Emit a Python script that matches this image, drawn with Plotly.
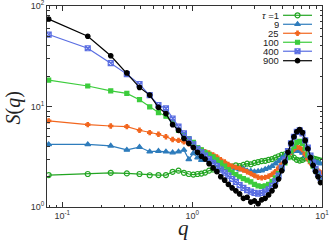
import plotly.graph_objects as go

q = [0.0785, 0.157, 0.236, 0.314, 0.393, 0.471, 0.550, 0.628, 0.707, 0.785,
     0.864, 0.942, 1.021, 1.100, 1.178, 1.257,
     1.35, 1.45, 1.55, 1.66, 1.78, 1.90, 2.03, 2.17, 2.32, 2.48, 2.65, 2.83,
     3.02, 3.22, 3.43, 3.65, 3.88, 4.12, 4.37, 4.63, 4.90, 5.18, 5.47, 5.77,
     6.08, 6.40, 6.73, 7.07, 7.42, 7.78, 8.15, 8.53, 8.92, 9.32, 9.73]

s_1 = [2.08, 2.13, 2.19, 2.16, 2.13, 2.07, 2.08, 2.08, 2.24, 2.30,
       2.19, 2.13, 2.10, 2.13, 2.15, 2.20,
       2.30, 2.36, 2.38, 2.42, 2.50, 2.55, 2.52, 2.60, 2.55, 2.62, 2.70, 2.66,
       2.75, 2.80, 2.86, 2.88, 2.95, 3.00, 3.10, 3.20, 3.30, 3.35, 3.30, 3.20,
       3.10, 2.95, 2.90, 2.95, 3.05, 3.10, 3.10, 3.05, 3.00, 2.95, 2.90]

s_9 = [4.20, 4.20, 4.06, 3.70, 3.95, 3.55, 3.60, 3.55, 3.48, 3.55,
       3.70, 2.98, 3.42, 3.10, 2.93, 3.05,
       2.90, 2.85, 2.80, 2.72, 2.65, 2.55, 2.50, 2.42, 2.35, 2.40, 2.30, 2.28,
       2.25, 2.27, 2.30, 2.38, 2.45, 2.55, 2.70, 2.85, 3.05, 3.20, 3.35, 3.50,
       3.60, 3.65, 3.60, 3.45, 3.25, 3.05, 2.95, 2.85, 2.80, 2.75, 2.70]

s_25 = [7.20, 6.60, 6.40, 6.30, 5.80, 5.50, 5.30, 5.00, 4.70, 4.60,
        4.45, 4.25, 4.05, 3.85, 3.70, 3.55,
        3.45, 3.30, 3.15, 2.95, 2.80, 2.65, 2.55, 2.48, 2.42, 2.33, 2.24, 2.15,
        2.05, 1.98, 1.95, 1.97, 2.02, 2.12, 2.25, 2.45, 2.65, 2.90, 3.20, 3.50,
        3.75, 3.95, 3.90, 3.70, 3.35, 3.00, 2.75, 2.55, 2.40, 2.30, 2.20]

s_100 = [18.3, 16.0, 14.3, 13.5, 11.7, 9.9, 8.7, 8.0, 6.9, 5.8,
         5.2, 4.8, 4.4, 3.9, 3.7, 3.5,
         3.35, 3.15, 2.95, 2.75, 2.55, 2.35, 2.20, 2.10, 2.00, 1.92, 1.85, 1.78,
         1.68, 1.62, 1.60, 1.62, 1.68, 1.80, 1.95, 2.15, 2.40, 2.75, 3.10, 3.60,
         4.00, 4.40, 4.50, 4.30, 3.80, 3.30, 2.90, 2.55, 2.30, 2.10, 1.95]

s_400 = [52.0, 38.0, 27.0, 21.0, 16.7, 13.0, 10.3, 9.6, 7.6, 6.3,
         5.4, 4.7, 4.2, 3.8, 3.5, 3.25,
         3.00, 2.75, 2.55, 2.35, 2.20, 2.05, 1.90, 1.78, 1.65, 1.55, 1.47, 1.42,
         1.38, 1.36, 1.38, 1.42, 1.50, 1.62, 1.80, 2.05, 2.45, 2.95, 3.60, 4.30,
         5.00, 5.60, 5.80, 5.40, 4.60, 3.90, 3.25, 2.75, 2.40, 2.15, 1.95]

s_900 = [74.0, 50.0, 32.0, 21.6, 15.5, 13.0, 9.8, 8.5, 6.6, 5.8,
         4.8, 4.3, 3.9, 3.5, 3.2, 3.0,
         2.70, 2.45, 2.25, 2.00, 1.85, 1.68, 1.55, 1.45, 1.35, 1.22, 1.25, 1.12,
         1.15, 1.08, 1.18, 1.22, 1.32, 1.45, 1.62, 1.90, 2.30, 2.80, 3.50, 4.30,
         5.00, 5.60, 5.90, 5.50, 4.60, 3.80, 3.10, 2.60, 2.25, 2.00, 1.75]

labels = ["=1", "9", "25", "100", "400", "900"]
series = [s_1, s_9, s_25, s_100, s_400, s_900]
colors = ["#22a522", "#2e7cbc", "#f2661e", "#3ccc3c", "#5a6ee2", "#000000"]
symbols = ["circle-open", "triangle-up", "cross", "square", "square-x-open", "circle"]
sizes = [5, 5, 3.5, 4, 5, 4.5]

x_major_vals = [0.1, 1, 10]
x_major_text = ["10<sup>-1</sup>", "10<sup>0</sup>", "10<sup>1</sup>"]
y_major_vals = [1, 10, 100]
y_major_text = ["10<sup>0</sup>", "10<sup>1</sup>", "10<sup>2</sup>"]
x_minor_vals = [0.08, 0.09] + [k / 10 for k in range(2, 10)] + list(range(2, 10))
y_minor_vals = list(range(2, 10)) + [10 * k for k in range(2, 10)]

fig = go.Figure()
for lab, s, c, sym, sz in zip(labels, series, colors, symbols, sizes):
    fig.add_trace(go.Scatter(
        x=q, y=s, mode="lines+markers", showlegend=False,
        line=dict(color=c, width=1.2),
        marker=dict(symbol=sym, size=sz, color=c, line=dict(color=c, width=1.2)),
    ))

# custom legend (text on the left, sample on the right), pixel-like overlay axes
leg_rows = [15, 24, 33, 42, 51, 60.5]
for lab, c, sym, sz, yy in zip(labels, colors, symbols, sizes, leg_rows):
    fig.add_trace(go.Scatter(
        x=[283, 312], y=[yy, yy], mode="lines", xaxis="x2", yaxis="y2",
        showlegend=False, line=dict(color=c, width=1.2), hoverinfo="skip"))
    fig.add_trace(go.Scatter(
        x=[297.5], y=[yy], mode="markers", xaxis="x2", yaxis="y2",
        showlegend=False, hoverinfo="skip",
        marker=dict(symbol=sym, size=sz, color=c, line=dict(color=c, width=1.2))))
    txt = lab if lab != "=1" else "<i>τ</i> =1"
    fig.add_annotation(x=280, y=yy, xref="x2", yref="y2", text=txt,
                       showarrow=False, xanchor="right", yanchor="middle",
                       height=9, borderpad=0,
                       font=dict(family="Liberation Sans, Arial", size=9.5, color="#222"))

# invisible trace to create the minor-tick overlay subplot
fig.add_trace(go.Scatter(x=[1], y=[10], xaxis="x3", yaxis="y3", mode="markers",
                         marker=dict(opacity=0), showlegend=False, hoverinfo="skip"))

tfont = dict(family="Liberation Sans, Arial", size=9, color="#333")
fig.update_layout(
    width=329, height=243,
    margin=dict(l=47, r=7, t=6, b=36),
    paper_bgcolor="white", plot_bgcolor="white",
    xaxis=dict(type="log", range=[-1.118, 1.0], showgrid=False, zeroline=False,
               showline=True, linecolor="#333", linewidth=1, mirror="allticks",
               ticks="inside", ticklen=5, tickcolor="#333", automargin=False,
               ticklabeloverflow="allow",
               tickvals=x_major_vals, ticktext=x_major_text, tickfont=tfont),
    yaxis=dict(type="log", range=[0, 2], showgrid=False, zeroline=False,
               showline=True, linecolor="#333", linewidth=1, mirror="allticks",
               ticks="inside", ticklen=5, tickcolor="#333", automargin=False,
               ticklabeloverflow="allow",
               tickvals=y_major_vals, ticktext=y_major_text, tickfont=tfont),
    xaxis2=dict(overlaying="x", range=[46.7, 322], visible=False, fixedrange=True),
    yaxis2=dict(overlaying="y", range=[207, 5.7], visible=False, fixedrange=True),
    xaxis3=dict(overlaying="x", type="log", range=[-1.118, 1.0], showgrid=False,
                zeroline=False, showline=False, mirror="allticks", ticks="inside",
                ticklen=2.5, tickcolor="#333", tickvals=x_minor_vals,
                showticklabels=False, anchor="y3"),
    yaxis3=dict(overlaying="y", type="log", range=[0, 2], showgrid=False,
                zeroline=False, showline=False, mirror="allticks", ticks="inside",
                ticklen=2.5, tickcolor="#333", tickvals=y_minor_vals,
                showticklabels=False, anchor="x3"),
    showlegend=False,
)

fig.add_annotation(x=-0.12, y=0.49, xref="paper", yref="paper",
                   text="<i>S</i>(<i>q</i>)", textangle=-90, showarrow=False,
                   xanchor="center", yanchor="middle",
                   font=dict(family="Liberation Serif, Times New Roman", size=20, color="#222"))
fig.add_annotation(x=0.495, y=-0.105, xref="paper", yref="paper",
                   text="<i>q</i>", showarrow=False, yanchor="middle",
                   font=dict(family="Liberation Serif, Times New Roman", size=21, color="#222"))

fig.write_html("out.html", config={"displayModeBar": False},
               post_script="document.body.style.margin='0px';")
